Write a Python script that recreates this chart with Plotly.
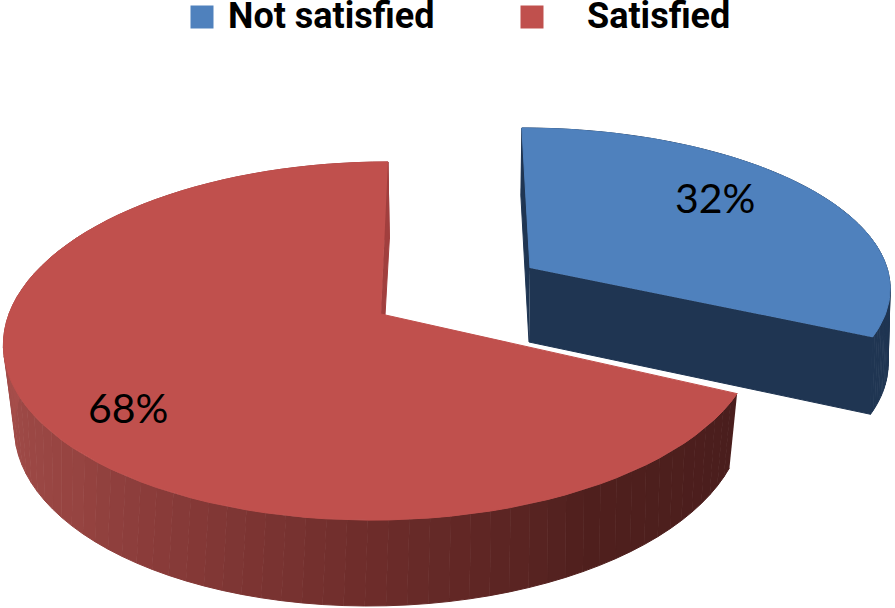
import numpy as np
import plotly.graph_objects as go

categories = ['Not satisfied', 'Satisfied']
shares = [32, 68]
colors = ['#4F81BD', '#C0504D']

# projection of each slice's top and bottom disc: apex x, apex y, x radius, lean, y radius, perspective
RED_TOP = (381, 314, 372, 8, 175, 0.151)
RED_BOT = (381, 386, 357, 10, 176, 0.2)
BLUE_TOP = (530, 268, 357, -9, 155, 0.107)
BLUE_BOT = (529, 342, 356, -9, 162, 0.107)


def rim(t, disc):
    ax, ay, b, lean, a, k = disc
    u, v = np.sin(t), np.cos(t)
    w = 1 + k * v
    return ax + (b * u + lean * v) / w, ay - a * v / w


def shade(t, stops):
    # side colour as a function of angle around the pie
    angs = [s[0] for s in stops]
    return 'rgb(%d,%d,%d)' % tuple(np.interp(np.degrees(t), angs, [s[1][i] for s in stops]) for i in range(3))


def poly(fig, xs, ys, color):
    fig.add_trace(go.Scatter(x=list(xs), y=list(ys), mode='lines', fill='toself', fillcolor=color,
                             line=dict(width=1, color=color), showlegend=False, hoverinfo='skip'))


def wedge(fig, t0, t1, top, bot, top_color, cut_color, stops):
    ts = np.linspace(t0, t1, 91)
    # outer wall, then whichever cut faces can be seen, then the lid
    for a, b in zip(ts[:-1], ts[1:]):
        xa, ya = rim(np.array([a, b]), top)
        xb, yb = rim(np.array([b, a]), bot)
        poly(fig, list(xa) + list(xb), list(ya) + list(yb), shade((a + b) / 2, stops))
    # the face at 12 o'clock shows on both slices, the blue one's other edge faces the viewer
    for t in ([t0, t1] if t1 < np.pi else [t1]):
        xa, ya = rim(t, top)
        xb, yb = rim(t, bot)
        poly(fig, [top[0], xa, xb, bot[0]], [top[1], ya, yb, bot[1]], cut_color)
    tx, ty = rim(ts, top)
    poly(fig, [top[0]] + list(tx), [top[1]] + list(ty), top_color)


fig = go.Figure()

split = 2 * np.pi * shares[0] / 100
wedge(fig, 0, split, BLUE_TOP, BLUE_BOT, colors[0], '#1F3552', [(0, (31, 53, 82)), (360, (31, 53, 82))])
wedge(fig, split, 2 * np.pi, RED_TOP, RED_BOT, colors[1], '#A13F3E',
      [(115, (74, 30, 29)), (150, (80, 32, 30)), (180, (110, 45, 43)), (210, (138, 60, 58)),
       (225, (150, 68, 65)), (250, (160, 75, 72)), (275, (172, 80, 77)), (360, (160, 63, 62))])

# legend squares and labels
for name, color, mx, tx in zip(categories, colors, [202, 532], [226, 585]):
    fig.add_trace(go.Scatter(x=[mx], y=[17], mode='markers', name=name, showlegend=False, hoverinfo='skip',
                             marker=dict(symbol='square', size=23, color=color)))
    fig.add_annotation(x=tx, y=16, text=name, showarrow=False, xanchor='left', yanchor='middle',
                       font=dict(family='Roboto', size=36, weight=700, color='black'))

for share, lx, ly in zip(shares, [715, 128], [197, 407]):
    fig.add_annotation(x=lx, y=ly, text='%d%%' % share, showarrow=False,
                       font=dict(family='Lato', size=41, color='black'))

fig.update_layout(width=895, height=608, margin=dict(l=0, r=0, t=0, b=0),
                  paper_bgcolor='white', plot_bgcolor='white', showlegend=False,
                  xaxis=dict(range=[0, 895], visible=False, fixedrange=True),
                  yaxis=dict(range=[608, 0], visible=False, fixedrange=True))

# the page's default body margin would push the plot 8px off
fig.write_html("out.html", config={'displayModeBar': False},
               post_script="document.body.style.margin='0';")
